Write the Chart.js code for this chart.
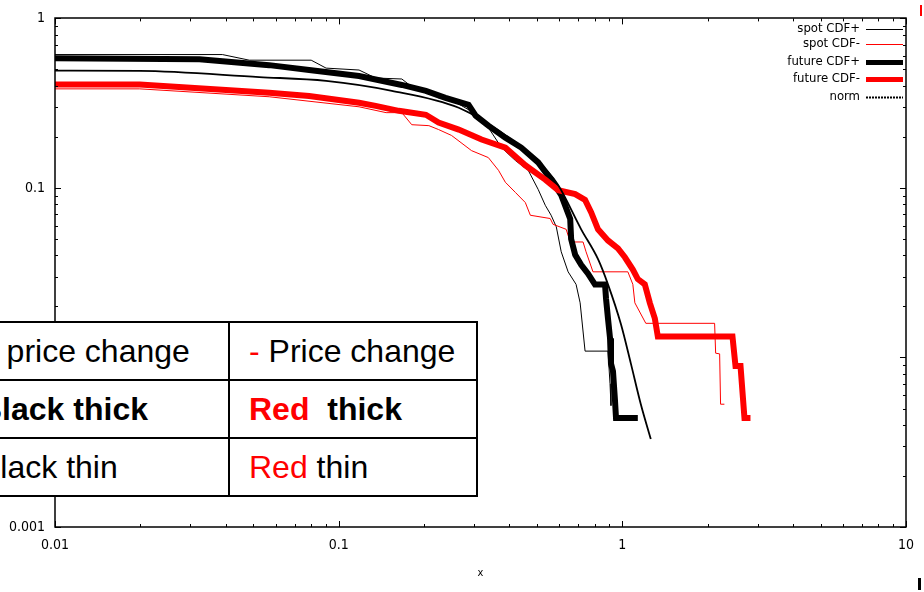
<!DOCTYPE html>
<html>
<head>
<meta charset="utf-8">
<title>CDF</title>
<script src="https://cdn.jsdelivr.net/npm/chart.js@4.4.0/dist/chart.umd.min.js"></script>
<style>
    body { margin: 0; background: #fff; }
    #wrap { position: relative; width: 924px; height: 592px; overflow: hidden; }
    #cdfChart { position: absolute; left: 0; top: 0; }
    #keyTable {
        position: absolute; left: -42px; top: 321px;
        border-collapse: collapse; table-layout: fixed; width: 518px;
        background: #fff; color: #000;
        font-family: 'Liberation Sans', Arial, sans-serif; font-size: 32px;
    }
    #keyTable td { border: 2px solid #000; height: 56px; padding: 0 0 0 19px; white-space: nowrap; }
    #keyTable .bold td { font-weight: bold; }
    .red { color: #ff0000; }
    .mark { position: absolute; }
</style>
</head>
<body>
<div id="wrap">
    <canvas id="cdfChart" width="924" height="592"></canvas>
    <table id="keyTable">
        <colgroup><col style="width:270px"><col style="width:248px"></colgroup>
        <tr><td>+ price change</td><td><span class="red">-</span> Price change</td></tr>
        <tr class="bold"><td>Black thick</td><td><span class="red">Red</span>&nbsp; thick</td></tr>
        <tr><td>Black thin</td><td><span class="red">Red</span> thin</td></tr>
    </table>
    <div class="mark" style="left:920px;top:5px;width:2px;height:11px;background:#ff0000"></div>
    <div class="mark" style="left:918px;top:578px;width:3px;height:12px;background:#000"></div>
</div>
<script>
// tick labels
const xTickLabels = ['0.01', '0.1', '1', '10'];
const yTickLabels = ['0.001', '0.01', '0.1', '1'];

// spot CDF+
const spotPlusX = [0.01, 0.0389, 0.0484, 0.080, 0.0903, 0.118, 0.135, 0.167, 0.187, 0.208, 0.225, 0.250, 0.299, 0.337, 0.375, 0.420, 0.466, 0.505, 0.535, 0.561, 0.585, 0.609, 0.644, 0.687, 0.710, 0.739, 0.890, 0.905, 0.912];
const spotPlusY = [0.612, 0.612, 0.567, 0.567, 0.509, 0.496, 0.445, 0.439, 0.379, 0.379, 0.340, 0.331, 0.278, 0.227, 0.173, 0.145, 0.127, 0.098, 0.079, 0.069, 0.059, 0.042, 0.032, 0.027, 0.021, 0.0109, 0.0109, 0.0070, 0.0052];

// spot CDF-
const spotMinusX = [0.01, 0.0199, 0.0569, 0.118, 0.147, 0.167, 0.181, 0.208, 0.225, 0.250, 0.294, 0.337, 0.366, 0.387, 0.420, 0.455, 0.474, 0.557, 0.570, 0.634, 0.655, 0.727, 0.745, 0.788, 1.046, 1.089, 1.107, 1.21, 2.115, 2.133, 2.203, 2.22, 2.29];
const spotMinusY = [0.384, 0.384, 0.345, 0.301, 0.278, 0.278, 0.236, 0.233, 0.221, 0.204, 0.166, 0.151, 0.127, 0.108, 0.094, 0.082, 0.069, 0.066, 0.061, 0.057, 0.048, 0.048, 0.042, 0.032, 0.032, 0.027, 0.021, 0.0159, 0.0159, 0.0106, 0.0105, 0.0053, 0.0053];

// future CDF+
const futurePlusX = [0.01, 0.0323, 0.0569, 0.0787, 0.118, 0.167, 0.203, 0.238, 0.287, 0.304, 0.337, 0.387, 0.440, 0.505, 0.561, 0.609, 0.655, 0.660, 0.682, 0.716, 0.757, 0.801, 0.869, 0.876, 0.890, 0.905, 0.912, 0.927, 0.942, 0.950, 1.134];
const futurePlusY = [0.583, 0.575, 0.530, 0.496, 0.457, 0.405, 0.374, 0.340, 0.309, 0.267, 0.233, 0.198, 0.173, 0.1415, 0.112, 0.0906, 0.0656, 0.050, 0.0403, 0.0352, 0.0312, 0.0269, 0.0269, 0.0223, 0.017, 0.013, 0.0092, 0.0083, 0.0056, 0.0044, 0.0044];

// future CDF-
const futureMinusX = [0.01, 0.0199, 0.0569, 0.0787, 0.118, 0.135, 0.163, 0.203, 0.225, 0.265, 0.319, 0.387, 0.455, 0.535, 0.594, 0.682, 0.739, 0.776, 0.821, 0.890, 0.965, 1.021, 1.089, 1.134, 1.20, 1.25, 1.302, 1.334, 2.445, 2.506, 2.61, 2.695, 2.83];
const futureMinusY = [0.408, 0.408, 0.364, 0.349, 0.318, 0.305, 0.285, 0.270, 0.243, 0.221, 0.193, 0.173, 0.136, 0.112, 0.097, 0.092, 0.085, 0.072, 0.057, 0.049, 0.044, 0.039, 0.033, 0.029, 0.027, 0.021, 0.017, 0.0133, 0.0133, 0.0089, 0.0089, 0.0044, 0.0044];

// norm
const normX = [0.01, 0.0199, 0.0525, 0.0903, 0.154, 0.265, 0.366, 0.448, 0.548, 0.594, 0.716, 0.821, 0.890, 0.989, 1.072, 1.162, 1.26];
const normY = [0.492, 0.490, 0.451, 0.428, 0.374, 0.297, 0.218, 0.169, 0.124, 0.104, 0.057, 0.038, 0.027, 0.0157, 0.0092, 0.0053, 0.0033];

const narrowFont = "'Liberation Sans Narrow', 'DejaVu Sans Condensed', sans-serif";

function toPoints(xs, ys) {
    return xs.map((x, i) => ({ x: x, y: ys[i] }));
}

// label only the decades
function decadeLabel(labels) {
    return function (value) {
        const lg = Math.log10(value);
        if (Math.abs(lg - Math.round(lg)) > 1e-6) return '';
        const found = labels.find(l => Math.abs(Math.log10(parseFloat(l)) - lg) < 1e-6);
        return found || '';
    };
}

function logTickValues(min, max) {
    const vals = [];
    for (let e = Math.round(Math.log10(min)); e < Math.round(Math.log10(max)); e++) {
        for (let k = 1; k <= 9; k++) vals.push({ v: k * Math.pow(10, e), major: k === 1 });
    }
    vals.push({ v: max, major: true });
    return vals;
}

// gnuplot-like frame, inward ticks and key
const framePlugin = {
    id: 'framePlugin',
    afterDatasetsDraw(chart) {
        const ctx = chart.ctx;
        const a = chart.chartArea;
        const xs = chart.scales.x;
        const ys = chart.scales.y;
        ctx.save();
        ctx.strokeStyle = '#000';
        ctx.lineWidth = 1;
        ctx.beginPath();
        logTickValues(xs.min, xs.max).forEach(t => {
            const px = Math.round(xs.getPixelForValue(t.v)) + 0.5;
            const len = t.major ? 6 : 3;
            ctx.moveTo(px, a.bottom); ctx.lineTo(px, a.bottom - len);
            ctx.moveTo(px, a.top); ctx.lineTo(px, a.top + len);
        });
        logTickValues(ys.min, ys.max).forEach(t => {
            const py = Math.round(ys.getPixelForValue(t.v)) + 0.5;
            const len = t.major ? 6 : 3;
            ctx.moveTo(a.left, py); ctx.lineTo(a.left + len, py);
            ctx.moveTo(a.right, py); ctx.lineTo(a.right - len, py);
        });
        ctx.stroke();
        ctx.lineWidth = 1.5;
        ctx.strokeRect(Math.round(a.left), Math.round(a.top), Math.round(a.right - a.left), Math.round(a.bottom - a.top));
        ctx.restore();
    },
    afterDraw(chart) {
        const ctx = chart.ctx;
        const rows = [29, 44, 62, 79, 97];
        ctx.save();
        ctx.font = '13px ' + narrowFont;
        ctx.textAlign = 'right';
        ctx.textBaseline = 'middle';
        chart.data.datasets.forEach((ds, i) => {
            const y = rows[i];
            ctx.fillStyle = '#000';
            ctx.fillText(ds.label, 860, y);
            ctx.strokeStyle = ds.borderColor;
            ctx.lineWidth = Math.min(ds.borderWidth, 5);
            ctx.setLineDash(ds.legendDash || []);
            ctx.beginPath();
            ctx.moveTo(866, y + 0.5);
            ctx.lineTo(903, y + 0.5);
            ctx.stroke();
        });
        ctx.restore();
    }
};

new Chart(document.getElementById('cdfChart').getContext('2d'), {
    type: 'line',
    data: {
        datasets: [
            {
                label: 'spot CDF+',
                data: toPoints(spotPlusX, spotPlusY),
                borderColor: '#000000',
                borderWidth: 1,
                order: 5
            },
            {
                label: 'spot CDF-',
                data: toPoints(spotMinusX, spotMinusY),
                borderColor: '#ff0000',
                borderWidth: 1,
                order: 4
            },
            {
                label: 'future CDF+',
                data: toPoints(futurePlusX, futurePlusY),
                borderColor: '#000000',
                borderWidth: 6,
                order: 3
            },
            {
                label: 'future CDF-',
                data: toPoints(futureMinusX, futureMinusY),
                borderColor: '#ff0000',
                borderWidth: 6,
                order: 2
            },
            {
                label: 'norm',
                data: toPoints(normX, normY),
                borderColor: '#000000',
                borderWidth: 1.8,
                legendDash: [2, 1],
                cubicInterpolationMode: 'monotone',
                order: 1
            }
        ]
    },
    options: {
        responsive: false,
        animation: false,
        layout: { padding: { top: 15, right: 11, left: 0, bottom: 0 } },
        elements: { point: { radius: 0 }, line: { tension: 0 } },
        plugins: { legend: { display: false }, tooltip: { enabled: false } },
        scales: {
            x: {
                type: 'logarithmic',
                min: 0.01,
                max: 10,
                grid: { display: false, drawTicks: false },
                border: { display: false },
                ticks: {
                    autoSkip: false,
                    maxRotation: 0,
                    padding: 10,
                    color: '#000',
                    font: { family: narrowFont, size: 14 },
                    callback: decadeLabel(xTickLabels)
                },
                title: {
                    display: true,
                    text: 'x',
                    color: '#000',
                    font: { family: narrowFont, size: 11 },
                    padding: { top: 4, bottom: 12 }
                },
                afterFit: scale => { scale.height = 65; }
            },
            y: {
                type: 'logarithmic',
                min: 0.001,
                max: 1,
                grid: { display: false, drawTicks: false },
                border: { display: false },
                ticks: {
                    autoSkip: false,
                    padding: 10,
                    color: '#000',
                    font: { family: narrowFont, size: 14 },
                    callback: decadeLabel(yTickLabels)
                },
                afterFit: scale => { scale.width = 55; }
            }
        }
    },
    plugins: [framePlugin]
});
</script>
</body>
</html>
